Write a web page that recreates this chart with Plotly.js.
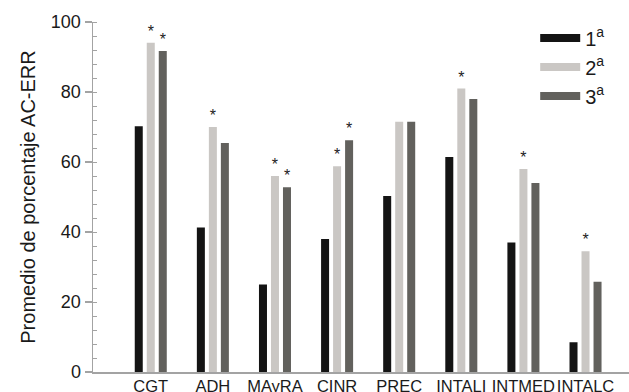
<!DOCTYPE html>
<html>
<head>
<meta charset="utf-8">
<script src="https://cdn.plot.ly/plotly-3.0.1.min.js"></script>
<style>html,body{margin:0;padding:0;background:#fff;}#chart{width:629px;height:392px;}</style>
</head>
<body>
<div id="chart"></div>
<script>
const categories = ["CGT", "ADH", "MAyRA", "CINR", "PREC", "INTALI", "INTMED", "INTALC"];
const seriesNames = ["1<sup>a</sup>", "2<sup>a</sup>", "3<sup>a</sup>"];
const values1 = [70.2, 41.3, 25.0, 38.0, 50.3, 61.4, 37.0, 8.5];
const values2 = [94.1, 70.0, 56.0, 58.8, 71.5, 81.0, 58.0, 34.5];
const values3 = [91.7, 65.4, 52.8, 66.2, 71.5, 78.0, 54.0, 25.8];
const stars1 = ["", "", "", "", "", "", "", ""];
const stars2 = ["*", "*", "*", "*", "", "*", "*", "*"];
const stars3 = ["*", "", "*", "*", "", "", "", ""];
const yTickVals = [0, 20, 40, 60, 80, 100];

const colors = ["#141414", "#cac7c4", "#62615d"];
const series = [values1, values2, values3];
const stars = [stars1, stars2, stars3];
const font = "Liberation Sans, Arial, Helvetica, sans-serif";

const traces = [];
series.forEach((vals, i) => {
  traces.push({
    type: "bar",
    x: categories,
    y: vals,
    text: stars[i],
    textposition: "outside",
    textangle: 0,
    cliponaxis: false,
    constraintext: "none",
    textfont: {family: font, size: 16, color: "#222"},
    marker: {color: colors[i], line: {width: 0}},
    showlegend: false,
    hoverinfo: "none"
  });
});
series.forEach((vals, i) => {
  traces.push({
    type: "scatter",
    mode: "lines",
    x: [null],
    y: [null],
    name: seriesNames[i],
    line: {color: colors[i], width: 8},
    showlegend: true,
    hoverinfo: "none"
  });
});

const layout = {
  width: 629,
  height: 392,
  margin: {l: 93, r: 0, t: 22, b: 20},
  paper_bgcolor: "#fff",
  plot_bgcolor: "#fff",
  font: {family: font, color: "#1a1a1a", size: 16},
  barmode: "group",
  bargap: 0.42,
  bargroupgap: 0.333,
  showlegend: true,
  legend: {
    x: 0.825, xanchor: "left",
    y: 1.01, yanchor: "top",
    font: {family: font, size: 20, color: "#1a1a1a"},
    bgcolor: "rgba(0,0,0,0)",
    tracegroupgap: 0,
    itemwidth: 40
  },
  xaxis: {
    type: "category",
    range: [-0.93, 7.7],
    showgrid: false,
    zeroline: false,
    showline: true,
    linecolor: "#a3a3a3",
    linewidth: 1.5,
    ticks: "",
    tickangle: 0,
    ticklabelstandoff: -1,
    tickfont: {family: font, size: 16.5, color: "#1a1a1a"},
    fixedrange: true
  },
  yaxis: {
    range: [0, 100],
    tickvals: yTickVals,
    showgrid: false,
    zeroline: false,
    showline: true,
    linecolor: "#a3a3a3",
    linewidth: 1.5,
    ticks: "outside",
    ticklen: 7,
    tickwidth: 1.5,
    tickcolor: "#a3a3a3",
    tickfont: {family: font, size: 18, color: "#1a1a1a"},
    minor: {dtick: 4, ticks: "inside", ticklen: 4, tickwidth: 1, tickcolor: "#a3a3a3", showgrid: false},
    title: {text: "Promedio de porcentaje AC-ERR", font: {family: font, size: 20, color: "#1a1a1a"}, standoff: 10},
    fixedrange: true
  }
};

Plotly.newPlot("chart", traces, layout, {displayModeBar: false, staticPlot: true});
</script>
</body>
</html>
